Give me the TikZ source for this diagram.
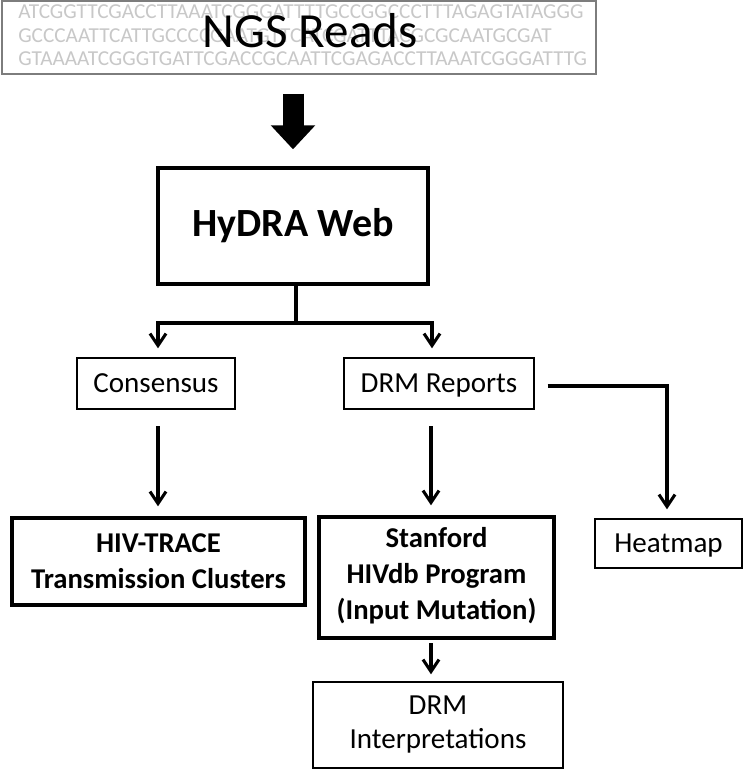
\documentclass[tikz,border=0pt]{standalone}
\usepackage{fontspec}
\setmainfont{Carlito}
\usetikzlibrary{arrows.meta}
\definecolor{dnagray}{RGB}{200,200,200}
\definecolor{framegray}{RGB}{125,125,125}
\begin{document}
\begin{tikzpicture}[x=0.75pt,y=-0.75pt,
  thinbox/.style={draw,line width=1pt,inner sep=0pt,align=center,font=\fontsize{21.8}{25.5}\selectfont},
  oneline/.style={text height=14pt,text depth=0pt},
  thickbox/.style={draw,line width=2.5pt,inner sep=0pt,align=center,font=\bfseries\fontsize{21.5}{27}\selectfont},
  conn/.style={line width=2.3pt},
  arr/.style={conn,-{Straight Barb[length=9pt,width=12pt]}},
  dna/.style={anchor=base west,inner sep=0pt,text=dnagray,font=\fontsize{15.95}{18}\selectfont},
  bigarrow/.style={line width=15.75pt,-{Triangle[length=18pt,width=32.25pt]}},
]
\useasboundingbox (0,0) rectangle (744,769);
\fill[white] (0,0) rectangle (744,769);

% NGS reads box
\node[draw=framegray,line width=1.1pt,minimum width=445.5pt,minimum height=54.75pt,inner sep=0pt] (reads) at (299,37.5) {};
\node[dna] (dna1) at (18,18) {ATCGGTTCGACCTTAAATCGGGATTTTGCCGGCCCTTTAGAGTATAGGG};
\node[dna] (dna2) at (18,42) {GCCCAATTCATTGCCCCGAATGTTCATCGATTTACGCGCAATGCGAT};
\node[dna] (dna3) at (18,65) {GTAAAATCGGGTGATTCGACCGCAATTCGAGACCTTAAATCGGGATTTG};
\node[anchor=base,inner sep=0pt,font=\fontsize{36.8}{40}\selectfont] (readslabel) at (310,47) {NGS Reads};

% boxes
\node[thickbox,minimum width=202.5pt,minimum height=87pt,font=\bfseries\fontsize{30}{34}\selectfont] (hydra) at (293,226) {HyDRA Web};
\node[thinbox,oneline,minimum width=118.5pt,minimum height=38.25pt] (cons) at (156,383.5) {Consensus};
\node[thinbox,oneline,minimum width=142.5pt,minimum height=38.25pt] (drm) at (439,383.5) {DRM Reports};
\node[thinbox,oneline,minimum width=110.25pt,minimum height=36.75pt] (heat) at (668.5,543.5) {Heatmap};
\node[thickbox,minimum width=219.75pt,minimum height=65.25pt] (hiv) at (158.5,561.5) {HIV-TRACE\\Transmission Clusters};
\node[thickbox,minimum width=176.25pt,minimum height=90.75pt] (stan) at (436.5,577.5) {Stanford\\HIVdb Program\\(Input Mutation)\rule{0pt}{0pt}\vspace{3pt}};
\node[thinbox,minimum width=187.5pt,minimum height=64.5pt] (drmi) at (438,725) {DRM\\Interpretations};

% big arrow
\draw[bigarrow,shorten <=14.25pt,shorten >=12.75pt] (hydra.north |- reads.south) -- (hydra.north);

% split
\coordinate (split) at (296,323);
\coordinate (jL) at (158,323);
\coordinate (jR) at (432,323);
\draw[conn] (hydra.south -| split) -- (split);
\draw[conn,line cap=rect] (jL) -- (jR);
\draw[arr,shorten >=6.75pt] (jL) -- (jL |- cons.north);
\draw[arr,shorten >=6.75pt] (jR) -- (jR |- drm.north);

% second level
\coordinate (cL) at (158,409);
\coordinate (cR) at (431,409);
\draw[arr,shorten <=12.75pt,shorten >=7.5pt] (cL) -- (cL |- hiv.north);
\draw[arr,shorten <=12.75pt,shorten >=7.5pt] (cR) -- (cR |- stan.north);
\coordinate (hturn) at (667,386);
\draw[arr,shorten >=6.75pt] ([xshift=9.75pt]drm.east |- hturn) -- (hturn) -- (hturn |- heat.north);

% stanford to interpretations
\coordinate (sB) at (431,638);
\draw[arr,shorten <=3.75pt,shorten >=5.25pt] (sB) -- (sB |- drmi.north);
\end{tikzpicture}
\end{document}
